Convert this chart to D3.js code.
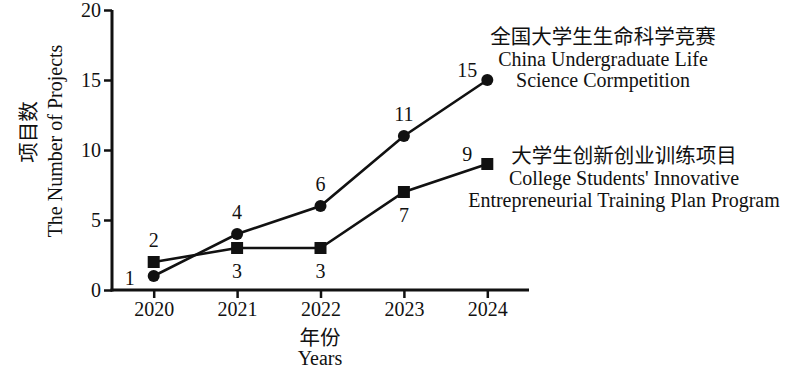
<!DOCTYPE html>
<html><head><meta charset="utf-8">
<script src="https://cdn.jsdelivr.net/npm/d3@7"></script>
<style>
html,body{margin:0;padding:0;background:#fff;}
text{font-family:"Liberation Serif","Noto Sans CJK SC",serif;fill:#111;}
</style></head>
<body><svg id="c" width="800" height="368"></svg>
<script>
const years = ["2020","2021","2022","2023","2024"];
const competition = [1,4,6,11,15];
const innovation = [2,3,3,7,9];
const yTicks = [0,5,10,15,20];
const compLabelPos = ["left","above","above","above","aboveLeft"];
const innoLabelPos = ["above","below","below","below","aboveLeft"];
const compTitle = ["全国大学生生命科学竞赛","China Undergraduate Life","Science Cormpetition"];
const innoTitle = ["大学生创新创业训练项目","College Students' Innovative","Entrepreneurial Training Plan Program"];

const svg = d3.select("#c");
const x = d3.scalePoint().domain(years).range([112,529]).padding(0.5);
const y = d3.scaleLinear().domain([0,20]).range([290,10]);
const ink = "#111";
const FS = 20, CJK = 20.5;

const gx = svg.append("g").attr("transform","translate(0,290)")
  .call(d3.axisBottom(x).tickSize(8).tickSizeOuter(0).tickPadding(4));
const gy = svg.append("g").attr("transform","translate(112,0)")
  .call(d3.axisLeft(y).tickValues(yTicks).tickSize(8).tickSizeOuter(0).tickPadding(3));
[gx,gy].forEach(g=>{
  g.select(".domain").attr("stroke",ink).attr("stroke-width",3);
  g.selectAll(".tick line").attr("stroke",ink).attr("stroke-width",2.5);
  g.selectAll(".tick text").attr("font-size",FS).attr("font-family",null).attr("fill",ink);
});
gx.select(".domain").attr("d","M110.5,0H529");
gy.select(".domain").attr("d","M0,291.5V10");

const line = d3.line().x((d,i)=>x(years[i])).y(d=>y(d));
svg.append("path").datum(innovation).attr("d",line).attr("fill","none").attr("stroke",ink).attr("stroke-width",2.6);
svg.append("path").datum(competition).attr("d",line).attr("fill","none").attr("stroke",ink).attr("stroke-width",2.6);

svg.selectAll("circle.m").data(competition).join("circle")
  .attr("cx",(d,i)=>x(years[i])).attr("cy",d=>y(d)).attr("r",6).attr("fill",ink);
svg.selectAll("rect.m").data(innovation).join("rect")
  .attr("x",(d,i)=>x(years[i])-6).attr("y",d=>y(d)-6).attr("width",12).attr("height",12).attr("fill",ink);

function off(p){
  if(p==="above") return [0,-22];
  if(p==="below") return [0,23];
  if(p==="left") return [-24,2];
  if(p==="aboveLeft") return [-20,-10];
  return [0,0];
}
function labels(vals,pos){
  svg.append("g").selectAll("text").data(vals).join("text")
    .attr("x",(d,i)=>x(years[i])+off(pos[i])[0])
    .attr("y",(d,i)=>y(d)+off(pos[i])[1])
    .attr("dy","0.35em").attr("text-anchor","middle").attr("font-size",FS)
    .text(d=>d);
}
labels(competition,compLabelPos);
labels(innovation,innoLabelPos);

function block(lines,cx,y0,dy){
  svg.append("g").selectAll("text").data(lines).join("text")
    .attr("x",cx).attr("y",(d,i)=>y0+i*dy).attr("dy","0.35em")
    .attr("text-anchor","middle").attr("font-size",(d,i)=>i===0?CJK:FS)
    .text(d=>d);
}
block(compTitle,603,37,21.5);
block(innoTitle,624,156,22);

// axis titles
svg.append("text").attr("x",320).attr("y",338).attr("dy","0.35em").attr("text-anchor","middle").attr("font-size",CJK).text("年份");
svg.append("text").attr("x",320).attr("y",358).attr("dy","0.35em").attr("text-anchor","middle").attr("font-size",FS).text("Years");
svg.append("text").attr("transform","translate(29,132) rotate(-90)").attr("dy","0.35em").attr("text-anchor","middle").attr("font-size",CJK).text("项目数");
svg.append("text").attr("transform","translate(55,141) rotate(-90)").attr("dy","0.35em").attr("text-anchor","middle").attr("font-size",FS).text("The Number of Projects");
</script></body></html>
